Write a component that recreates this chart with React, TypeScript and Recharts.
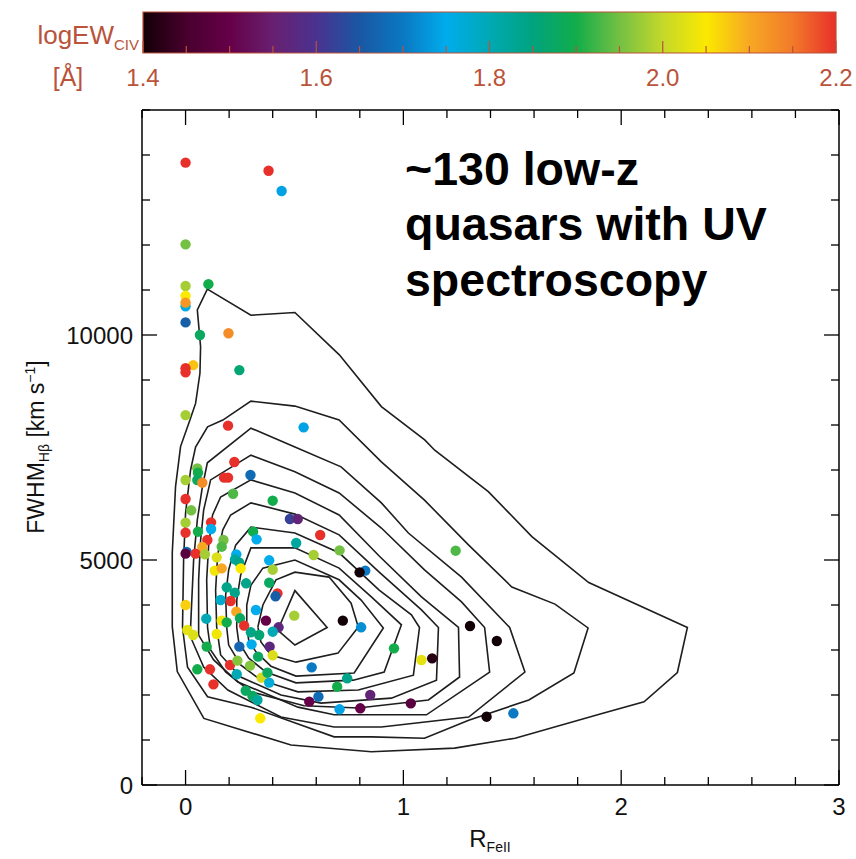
import React from 'react';
import { ScatterChart, Scatter, XAxis, YAxis, ReferenceArea } from 'recharts';

// quasar sample: [R_FeII, FWHM(Hbeta) km/s, log EW(CIV)]
const quasars: [number, number, number][] = [
  [0, 13830, 2.2], [0.381, 13650, 2.2], [0.441, 13200, 1.74], [0, 12015, 1.95],
  [0, 11090, 1.98], [0.105, 11130, 1.9], [0, 10870, 2.05], [0, 10640, 1.76],
  [0, 10720, 2.12], [0, 10280, 1.66], [0.066, 10000, 1.88], [0.197, 10040, 2.13],
  [0.035, 9330, 2.08], [0, 9260, 2.2], [0, 9170, 2.2], [0.247, 9220, 1.86],
  [0, 8220, 1.98], [0.195, 7985, 2.2], [0.542, 7948, 1.74], [0.224, 7178, 2.2],
  [0.177, 6830, 2.2], [0.195, 6830, 2.2], [0.298, 6890, 1.68], [0.054, 7037, 1.95],
  [0.057, 6940, 1.9], [0.054, 6778, 1.88], [0, 6778, 1.98], [0.077, 6718, 2.13],
  [0.218, 6473, 1.93], [0.4, 6318, 1.9], [0, 6356, 2.2], [0.026, 6104, 1.95],
  [0, 5829, 1.98], [0, 5607, 2.2], [0.117, 5837, 2.2], [0.117, 5689, 1.75],
  [0.057, 5629, 1.9], [0.1, 5444, 2.2], [0.174, 5444, 1.95], [0.166, 5296, 1.93],
  [0.077, 5289, 2.1], [0.479, 5911, 1.62], [0.515, 5911, 1.56], [0.31, 5629, 1.9],
  [0.326, 5459, 1.75], [0.618, 5556, 2.2], [0.508, 5378, 1.82], [0.588, 5111, 1.98],
  [0.707, 5215, 1.95], [0.005, 5180, 1.68], [0, 5141, 1.48], [0.046, 5141, 2.2],
  [0.089, 5126, 1.98], [0.233, 5126, 1.75], [0.227, 5015, 1.82], [0.246, 4948, 1.84],
  [0.143, 5059, 2.02], [0.134, 4763, 2.04], [0.166, 4815, 2.1], [0.253, 4815, 2.05],
  [0.384, 4993, 1.75], [0.4, 4785, 1.98], [0.825, 4763, 1.7], [0.799, 4726, 1.4],
  [0.278, 4482, 1.84], [0.384, 4496, 1.88], [0.189, 4393, 1.84], [0.226, 4274, 1.84],
  [0.422, 4259, 2.2], [0.413, 4193, 1.66], [0, 4000, 2.07], [0.161, 4111, 1.78],
  [0.207, 4089, 2.2], [0.323, 3889, 1.75], [0.233, 3852, 2.1], [0.25, 3704, 1.88],
  [0.499, 3763, 1.98], [0.722, 3652, 1.4], [0.806, 3504, 1.72], [0.369, 3652, 1.5],
  [0.427, 3504, 1.57], [0.095, 3696, 1.8], [0.166, 3652, 2.04], [0.189, 3615, 1.9],
  [0.269, 3541, 2.2], [0.3, 3393, 1.84], [0.338, 3333, 1.86], [0.4, 3407, 1.8],
  [0.008, 3444, 2.03], [0.035, 3333, 2.02], [0.143, 3356, 2.04], [0.097, 3074, 1.9],
  [0.247, 3074, 1.67], [0.303, 3126, 1.75], [0.386, 3074, 1.57], [0.333, 2852, 1.88],
  [0.4, 2882, 2.02], [0.054, 2571, 1.9], [0.112, 2571, 2.2], [0.204, 2667, 2.2],
  [0.238, 2763, 1.96], [0.296, 2652, 1.96], [0.235, 2460, 1.8], [0.579, 2615, 1.7],
  [0.957, 3037, 1.9], [0.128, 2237, 2.2], [0.349, 2385, 2.01], [0.376, 2496, 1.88],
  [0.384, 2274, 1.77], [0.742, 2371, 1.84], [0.696, 2185, 1.9], [0.276, 2096, 1.88],
  [0.307, 1978, 1.88], [0.33, 1889, 1.82], [1.083, 2778, 2.03], [1.132, 2815, 1.42],
  [0.568, 1852, 1.5], [0.61, 1963, 1.68], [0.848, 2000, 1.56], [0.707, 1682, 1.74],
  [0.802, 1704, 1.5], [1.034, 1815, 1.48], [0.343, 1482, 2.05], [1.24, 5207, 1.93],
  [1.306, 3533, 1.4], [1.429, 3200, 1.4], [1.382, 1518, 1.4], [1.505, 1593, 1.7],
];

// density contours, outermost first: [R_FeII, FWHM]
const contour1: [number, number][] = [
  [0.02, 8110], [0.046, 8480], [0.066, 9150], [0.069, 9740], [0.054, 10560], [0.1, 11020],
  [0.3, 10440], [0.502, 10500], [0.706, 9560], [0.899, 8410], [1.098, 7670], [1.144, 7440],
  [1.39, 6520], [1.59, 5520], [1.851, 4500], [2.304, 3500], [2.258, 2500], [2.105, 1850],
  [1.912, 1590], [1.513, 1040], [1.235, 820], [0.853, 740], [0.484, 890], [0.084, 1480],
  [-0.038, 2520], [-0.061, 3520], [-0.061, 5160], [-0.046, 6630], [-0.023, 7520], [0.02, 8110],
];
const contour2: [number, number][] = [
  [-0.014, 3500], [-0.009, 5000], [0, 6040], [0.023, 7000], [0.046, 7510], [0.101, 7960],
  [0.171, 8110], [0.3, 8530], [0.502, 8420], [0.705, 8110], [0.899, 7180], [1.097, 6330],
  [1.3, 5330], [1.498, 4400], [1.696, 4020], [1.848, 3490], [1.783, 2490], [1.576, 1890],
  [1.3, 1440], [1.097, 1040], [0.853, 1070], [0.682, 1070], [0.3, 1730], [0.101, 1960],
  [0.009, 2620], [-0.014, 3500],
];
const contour3: [number, number][] = [
  [0.023, 3500], [0.037, 5000], [0.054, 5890], [0.077, 6620], [0.1, 7160], [0.3, 7930],
  [0.502, 7510], [0.714, 7070], [0.899, 6270], [1.023, 5600], [1.267, 4620], [1.488, 3500],
  [1.558, 2510], [1.3, 1510], [0.899, 1290], [0.682, 1290], [0.438, 1510], [0.194, 2110],
  [0.083, 2620], [0.023, 3290], [0.023, 3500],
];
const contour4: [number, number][] = [
  [0.06, 3500], [0.06, 4560], [0.069, 5440], [0.083, 6110], [0.115, 6780], [0.3, 7330],
  [0.502, 6960], [0.705, 6490], [0.899, 5710], [1.097, 4780], [1.267, 4070], [1.373, 3500],
  [1.396, 2510], [1.106, 1560], [0.682, 1560], [0.516, 1730], [0.24, 2290], [0.129, 2780],
  [0.06, 3330], [0.06, 3500],
];
const contour5: [number, number][] = [
  [0.101, 3500], [0.097, 4560], [0.106, 5330], [0.124, 6000], [0.161, 6400], [0.3, 6780],
  [0.502, 6490], [0.705, 6000], [0.889, 5090], [1.083, 4180], [1.253, 3500], [1.258, 2400],
  [1.115, 1890], [0.793, 1710], [0.544, 1760], [0.3, 2070], [0.184, 2510], [0.115, 3000],
  [0.101, 3500],
];
const contour6: [number, number][] = [
  [0.143, 3500], [0.138, 4330], [0.147, 5110], [0.171, 5670], [0.207, 6000], [0.3, 6270],
  [0.502, 6020], [0.705, 5560], [0.889, 4730], [1.083, 3890], [1.161, 3500], [1.152, 2330],
  [0.945, 1930], [0.622, 1820], [0.438, 2000], [0.253, 2400], [0.161, 2890], [0.143, 3500],
];
const contour7: [number, number][] = [
  [0.189, 3500], [0.184, 4220], [0.198, 4780], [0.23, 5330], [0.3, 5730], [0.502, 5600],
  [0.705, 5160], [0.889, 4330], [1.037, 3780], [1.074, 3500], [1.046, 2440], [0.793, 2110],
  [0.516, 2070], [0.346, 2330], [0.253, 2670], [0.198, 3110], [0.189, 3500],
];
const contour8: [number, number][] = [
  [0.235, 3500], [0.235, 4110], [0.253, 4670], [0.3, 5270], [0.502, 5270], [0.705, 4820],
  [0.853, 4180], [0.991, 3560], [0.912, 2510], [0.77, 2330], [0.507, 2270], [0.369, 2510],
  [0.29, 2820], [0.244, 3180], [0.235, 3500],
];
const contour9: [number, number][] = [
  [0.281, 3500], [0.281, 4000], [0.3, 4440], [0.355, 4820], [0.502, 5000], [0.705, 4560],
  [0.806, 4110], [0.908, 3490], [0.774, 2490], [0.507, 2420], [0.392, 2640], [0.323, 2960],
  [0.29, 3220], [0.281, 3500],
];
const contour10: [number, number][] = [
  [0.332, 3510], [0.355, 4000], [0.415, 4560], [0.502, 4730], [0.659, 4620], [0.76, 4040],
  [0.793, 3510], [0.7, 2930], [0.507, 2730], [0.392, 2890], [0.346, 3180], [0.332, 3510],
];
const contour11: [number, number][] = [
  [0.423, 3440], [0.502, 4320], [0.65, 3500], [0.502, 3110], [0.423, 3440],
];
const contours = [contour1, contour2, contour3, contour4, contour5, contour6,
  contour7, contour8, contour9, contour10, contour11];

const xTicks = [-0.2, 0, 0.2, 0.4, 0.6, 0.8, 1, 1.2, 1.4, 1.6, 1.8, 2, 2.2, 2.4, 2.6, 2.8, 3];
const xLabels = [0, 1, 2, 3];
const yTicks = [0, 1000, 2000, 3000, 4000, 5000, 6000, 7000, 8000, 9000, 10000,
  11000, 12000, 13000, 14000, 15000];
const yLabels = [0, 5000, 10000];
const cbarTicks = [1.4, 1.45, 1.5, 1.55, 1.6, 1.65, 1.7, 1.75, 1.8, 1.85, 1.9, 1.95,
  2.0, 2.05, 2.1, 2.15, 2.2];
const cbarLabels = [1.4, 1.6, 1.8, 2.0, 2.2];

// colour table for log EW(CIV)
const cmapStops: [number, string][] = [
  [1.40, '#120006'], [1.45, '#48002e'], [1.50, '#650048'], [1.55, '#682070'],
  [1.60, '#4a3290'], [1.65, '#1a57a3'], [1.70, '#0a78c2'], [1.75, '#00acec'],
  [1.80, '#00a9b4'], [1.85, '#00a37e'], [1.90, '#12ad4a'], [1.95, '#74c043'],
  [2.00, '#c4d82a'], [2.05, '#fbe900'], [2.10, '#f7a823'], [2.15, '#f27a29'],
  [2.20, '#e8302a'],
];

const FONT = '"Liberation Sans", Arial, Helvetica, sans-serif';
const BROWN = '#b9533a';

function hexRgb(h: string) {
  return [1, 3, 5].map((i) => parseInt(h.slice(i, i + 2), 16));
}

function ewColor(v: number) {
  if (v <= cmapStops[0][0]) return cmapStops[0][1];
  for (let i = 1; i < cmapStops.length; i++) {
    const [v1, c1] = cmapStops[i];
    if (v <= v1) {
      const [v0, c0] = cmapStops[i - 1];
      const t = (v - v0) / (v1 - v0);
      const a = hexRgb(c0);
      const b = hexRgb(c1);
      const m = a.map((ch, k) => Math.round(ch + (b[k] - ch) * t));
      return `rgb(${m[0]},${m[1]},${m[2]})`;
    }
  }
  return cmapStops[cmapStops.length - 1][1];
}

const pointData = quasars.map(([x, y, ew]) => ({ x, y, ew }));

const Empty = () => <g />;

const Dot = (p: any) => (
  <circle cx={p.cx} cy={p.cy} r={5.2} fill={ewColor(p.payload.ew)} />
);

const BottomTick = (p: any) => {
  const v = p.payload.value;
  const major = xLabels.some((l) => Math.abs(l - v) < 1e-6);
  return (
    <g>
      <line x1={p.x} y1={p.y} x2={p.x} y2={p.y - (major ? 15 : 8)} stroke="#000" strokeWidth={1.3} />
      {major && (
        <text x={p.x} y={p.y + 30} textAnchor="middle" fontSize={24} fontFamily={FONT} fill="#111">
          {v}
        </text>
      )}
    </g>
  );
};

const TopTick = (p: any) => {
  const v = p.payload.value;
  const major = xLabels.some((l) => Math.abs(l - v) < 1e-6);
  return <line x1={p.x} y1={p.y} x2={p.x} y2={p.y + (major ? 15 : 8)} stroke="#000" strokeWidth={1.3} />;
};

const LeftTick = (p: any) => {
  const v = p.payload.value;
  const major = yLabels.includes(v);
  return (
    <g>
      <line x1={p.x} y1={p.y} x2={p.x + (major ? 15 : 8)} y2={p.y} stroke="#000" strokeWidth={1.3} />
      {major && (
        <text x={p.x - 9} y={p.y + 8.5} textAnchor="end" fontSize={24} fontFamily={FONT} fill="#111">
          {v}
        </text>
      )}
    </g>
  );
};

const RightTick = (p: any) => {
  const v = p.payload.value;
  const major = yLabels.includes(v);
  return <line x1={p.x} y1={p.y} x2={p.x - (major ? 15 : 8)} y2={p.y} stroke="#000" strokeWidth={1.3} />;
};

const CbarTick = (p: any) => {
  const v = p.payload.value;
  const major = cbarLabels.some((l) => Math.abs(l - v) < 1e-6);
  return (
    <g>
      <line x1={p.x} y1={p.y} x2={p.x} y2={p.y - (major ? 12 : 7)} stroke={BROWN} strokeWidth={1.2} />
      {major && (
        <text x={p.x} y={p.y + 33} textAnchor="middle" fontSize={24} fontFamily={FONT} fill={BROWN}>
          {v.toFixed(1)}
        </text>
      )}
    </g>
  );
};

const frame = { stroke: '#000', strokeWidth: 1.5 };

export default function App() {
  return (
    <div style={{ position: 'fixed', left: 0, top: 0, width: 856, height: 859, background: '#fff' }}>
      <div style={{ position: 'absolute', left: 0, top: 0 }}>
        <ScatterChart width={856} height={100} margin={{ top: 12, right: 20, bottom: 46, left: 143 }}>
          <defs>
            <linearGradient id="cbarGrad" x1="0" y1="0" x2="1" y2="0">
              {cmapStops.map(([v, c]) => (
                <stop key={v} offset={(v - 1.4) / 0.8} stopColor={c} />
              ))}
            </linearGradient>
          </defs>
          <ReferenceArea x1={1.4} x2={2.2} y1={0} y2={1} fill="url(#cbarGrad)" fillOpacity={1}
            stroke={BROWN} strokeWidth={1.2} ifOverflow="visible" />
          <Scatter data={[{ x: 1.4, y: 0 }]} shape={Empty} isAnimationActive={false} />
          <XAxis type="number" dataKey="x" domain={[1.4, 2.2]} ticks={cbarTicks} interval={0}
            allowDataOverflow height={1} tickSize={0} tickMargin={0} axisLine={false} tick={CbarTick} />
          <YAxis type="number" dataKey="y" domain={[0, 1]} hide allowDataOverflow />
        </ScatterChart>
      </div>
      <div style={{ position: 'absolute', left: 0, top: 0 }}>
        <ScatterChart width={856} height={859} margin={{ top: 109, right: 16, bottom: 34, left: 82 }}>
          {contours.map((c, i) => (
            <Scatter key={`c${i}`} xAxisId="b" yAxisId="l" data={c.map(([x, y]) => ({ x, y }))}
              line={{ stroke: '#1e1e1e', strokeWidth: 1.6, fill: 'none' }} lineType="joint"
              shape={Empty} isAnimationActive={false} />
          ))}
          <Scatter xAxisId="b" yAxisId="l" data={pointData} shape={Dot} isAnimationActive={false} />
          <Scatter xAxisId="t" yAxisId="r" data={[{ x: 0, y: 0 }]} shape={Empty} isAnimationActive={false} />
          <XAxis xAxisId="b" type="number" dataKey="x" domain={[-0.2, 3]} ticks={xTicks} interval={0}
            allowDataOverflow height={40} tickSize={0} tickMargin={0} axisLine={frame} tick={BottomTick} />
          <XAxis xAxisId="t" orientation="top" type="number" dataKey="x" domain={[-0.2, 3]} ticks={xTicks}
            interval={0} allowDataOverflow height={1} tickSize={0} tickMargin={0} axisLine={frame} tick={TopTick} />
          <YAxis yAxisId="l" type="number" dataKey="y" domain={[0, 15000]} ticks={yTicks} interval={0}
            allowDataOverflow width={60} tickSize={0} tickMargin={0} axisLine={frame} tick={LeftTick} />
          <YAxis yAxisId="r" orientation="right" type="number" dataKey="y" domain={[0, 15000]} ticks={yTicks}
            interval={0} allowDataOverflow width={1} tickSize={0} tickMargin={0} axisLine={frame} tick={RightTick} />
        </ScatterChart>
      </div>
      <svg width={856} height={859} style={{ position: 'absolute', left: 0, top: 0, pointerEvents: 'none' }}>
        <g fontFamily={FONT}>
          <text x={139} y={44} textAnchor="end" fontSize={26} fill={BROWN}>
            logEW<tspan fontSize={15} dy={6}>CIV</tspan>
          </text>
          <text x={68} y={86} textAnchor="middle" fontSize={25} fill={BROWN}>[Å]</text>
          <text transform="translate(44,447) rotate(-90)" textAnchor="middle" fontSize={23} fill="#111">
            FWHM<tspan fontSize={14} dy={5}>Hβ</tspan>
            <tspan dy={-5}> [km s</tspan>
            <tspan fontSize={14} dy={-9}>−1</tspan>
            <tspan dy={9}>]</tspan>
          </text>
          <text x={490} y={847} textAnchor="middle" fontSize={24} fill="#111">
            R<tspan fontSize={14} dy={5}>FeII</tspan>
          </text>
          <g fontWeight="bold" fontSize={46.5} fill="#000">
            <text x={405} y={185}>~130 low-z</text>
            <text x={405} y={240}>quasars with UV</text>
            <text x={405} y={296}>spectroscopy</text>
          </g>
        </g>
      </svg>
    </div>
  );
}
